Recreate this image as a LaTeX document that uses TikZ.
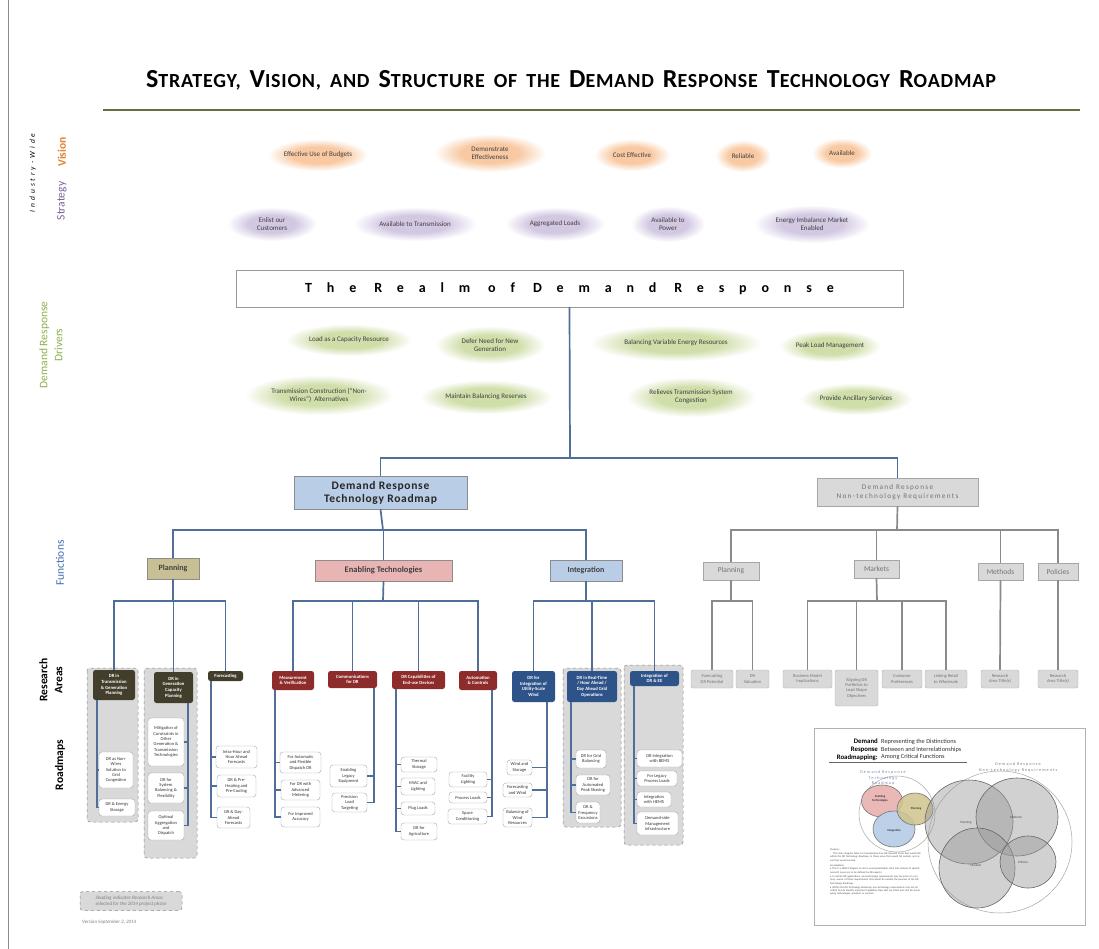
\documentclass[tikz,border=0pt]{standalone}
\usepackage{fontspec}
\setmainfont{Carlito}
\usetikzlibrary{shapes.geometric}

\definecolor{treeblue}{HTML}{4F6F98}
\definecolor{treegray}{HTML}{8A8A8A}
\definecolor{visorange}{HTML}{F8C9A2}
\definecolor{strpurple}{HTML}{D2C8E2}
\definecolor{drvgreen}{HTML}{D0DEAA}
\definecolor{planfill}{HTML}{C8BF94}
\definecolor{etfill}{HTML}{E8B4B4}
\definecolor{intfill}{HTML}{B9CDE6}
\definecolor{plandark}{HTML}{433D2C}
\definecolor{etdark}{HTML}{8E2B2B}
\definecolor{intdark}{HTML}{2D5389}
\definecolor{shadegray}{HTML}{D9D9D9}
\definecolor{labelorange}{HTML}{E3812F}
\definecolor{labelpurple}{HTML}{7B6399}
\definecolor{labelgreen}{HTML}{8DB04B}
\definecolor{labelblue}{HTML}{3F6DB0}
\definecolor{rulegreen}{HTML}{6B6B40}
\definecolor{vennpink}{HTML}{EBB8B8}
\definecolor{vennolive}{HTML}{CFC48E}
\definecolor{vennblue}{HTML}{BCD0E8}

\pgfdeclareradialshading{visglow}{\pgfpointorigin}{color(0bp)=(visorange); color(13bp)=(visorange); color(25bp)=(white); color(50bp)=(white)}
\pgfdeclareradialshading{strglow}{\pgfpointorigin}{color(0bp)=(strpurple); color(13bp)=(strpurple); color(25bp)=(white); color(50bp)=(white)}
\pgfdeclareradialshading{drvglow}{\pgfpointorigin}{color(0bp)=(drvgreen); color(13bp)=(drvgreen); color(25bp)=(white); color(50bp)=(white)}

% small-caps look for the heading
\newcommand{\HdCap}[2]{{\fontsize{26}{26}\selectfont #1}{\fontsize{20}{20}\selectfont #2}}
\newcommand{\HdSm}[1]{{\fontsize{20}{20}\selectfont #1}}
\newcommand{\HdGap}{\hspace{9pt}}

\begin{document}
\begin{tikzpicture}[x=1pt,y=-1pt,
  sz/.style 2 args={minimum width=#1pt, minimum height=#2pt},
  tree/.style={draw=treeblue, line width=1.7pt},
  ntree/.style={draw=treegray, line width=1.7pt},
  glowbase/.style={ellipse, shade, inner sep=0pt, align=center, font=\fontsize{7}{8}\selectfont, text=black!75},
  vis/.style={glowbase, shading=visglow},
  strat/.style={glowbase, shading=strglow},
  drv/.style={glowbase, shading=drvglow},
  rahead/.style={rounded corners=2.5pt, inner sep=0.5pt, align=center, text=white, font=\fontsize{4.7}{5.6}\selectfont\bfseries},
  plhead/.style={rahead, fill=plandark},
  ethead/.style={rahead, fill=etdark},
  inhead/.style={rahead, fill=intdark},
  leaf/.style={draw=black!35, fill=white, rounded corners=3pt, inner sep=0.5pt, align=center, font=\fontsize{4.5}{5.4}\selectfont, text=black!80},
  nleaf/.style={draw=black!30, fill=shadegray, rounded corners=2pt, inner sep=0.5pt, align=center, font=\fontsize{4.5}{5.4}\selectfont, text=black!55},
  func/.style={draw=black!45, inner sep=0.5pt, font=\fontsize{8}{9}\selectfont\bfseries, text=black!75},
  nfunc/.style={draw=black!35, fill=shadegray, inner sep=0.5pt, font=\fontsize{7.5}{9}\selectfont, text=black!55},
  shadebox/.style={fill=shadegray, draw=black!45, dashed, rounded corners=3pt, line width=0.5pt},
  sidelabel/.style={rotate=90, align=center, font=\fontsize{11.5}{13}\selectfont}
]
\useasboundingbox (0,0) rectangle (1099,949);
\fill[white] (0,0) rectangle (1099,949);
\draw[black!45, line width=0.6pt] (8,0) -- (8,949);

% ---------- heading ----------
\node[font=\bfseries\addfontfeature{LetterSpace=4}, inner sep=0pt] (title) at (571,80)
 {\HdCap{S}{TRATEGY,}\HdGap\HdCap{V}{ISION,}\HdGap\HdSm{AND}\HdGap\HdCap{S}{TRUCTURE}\HdGap\HdSm{OF}\HdGap\HdSm{THE}\HdGap\HdCap{D}{EMAND}\HdGap\HdCap{R}{ESPONSE}\HdGap\HdCap{T}{ECHNOLOGY}\HdGap\HdCap{R}{OADMAP}};
\draw[rulegreen, line width=1.6pt] (103,110) -- (1080,110);

% ---------- side labels ----------
\node[rotate=90, font=\fontsize{7.5}{9}\selectfont\itshape\addfontfeature{LetterSpace=40}] (lblind) at (33,173) {Industry-Wide};
\node[sidelabel, text=labelorange, font=\fontsize{11.5}{13}\selectfont\bfseries] (lblvis) at (62,152) {Vision};
\node[sidelabel, text=labelpurple] (lblstr) at (62,201) {Strategy};
\node[sidelabel, text=labelgreen] (lbldrv) at (51,345) {Demand Response\\[2pt]Drivers};
\node[sidelabel, text=labelblue] (lblfun) at (60,563) {Functions};
\node[sidelabel, font=\fontsize{11.5}{13}\selectfont\bfseries] (lblra) at (51,680) {Research\\[2pt]Areas};
\node[sidelabel, font=\fontsize{11.5}{13}\selectfont\bfseries] (lblrm) at (60,765) {Roadmaps};

% ---------- vision ----------
\node[vis, sz={100}{32}] (vis1) at (318,155) {Effective Use of Budgets};
\node[vis, sz={112}{38}] (vis2) at (490,153) {Demonstrate\\Effectiveness};
\node[vis, sz={76}{32}] (vis3) at (632,155) {Cost Effective};
\node[vis, sz={56}{32}] (vis4) at (743,156) {Reliable};
\node[vis, sz={60}{30}] (vis5) at (842,153) {Available};

% ---------- strategy ----------
\node[strat, sz={90}{34}] (str1) at (272,224) {Enlist our\\Customers};
\node[strat, sz={124}{34}] (str2) at (415,224) {Available to Transmission};
\node[strat, sz={100}{34}] (str3) at (555,224) {Aggregated Loads};
\node[strat, sz={74}{36}] (str4) at (668,224) {Available to\\Power};
\node[strat, sz={116}{38}] (str5) at (812,224) {Energy Imbalance Market\\Enabled};

% ---------- realm ----------
\node[draw=black!40, sz={667}{37}, inner sep=0pt, font=\fontsize{14}{16}\selectfont\bfseries\addfontfeature{LetterSpace=106}] (realm) at (569.5,288.5) {The Realm of Demand Response};

% ---------- drivers ----------
\node[drv, sz={126}{32}] (drv1) at (349,340) {Load as a Capacity Resource};
\node[drv, sz={110}{38}] (drv2) at (490,345) {Defer Need for New\\Generation};
\node[drv, sz={172}{36}] (drv3) at (676,343) {Balancing Variable Energy Resources};
\node[drv, sz={102}{32}] (drv4) at (830,346) {Peak Load Management};
\node[drv, sz={148}{40}] (drv5) at (319,395) {Transmission Construction (``Non-\\Wires'')\ \ Alternatives};
\node[drv, sz={132}{34}] (drv6) at (486,397) {Maintain Balancing Reserves};
\node[drv, sz={130}{40}] (drv7) at (691,397) {Relieves Transmission System\\Congestion};
\node[drv, sz={112}{32}] (drv8) at (856,399) {Provide Ancillary Services};

% ---------- roadmap heads ----------
\node[draw=black!45, fill=intfill, sz={173}{33}, inner sep=0pt, align=center, font=\fontsize{11.5}{13}\selectfont\bfseries\addfontfeature{LetterSpace=6}, text=black!85] (drt) at (380.5,492.5) {Demand Response\\Technology Roadmap};
\node[draw=black!35, fill=shadegray, sz={161}{28}, inner sep=0pt, align=center, font=\fontsize{7.2}{9}\selectfont\addfontfeature{LetterSpace=18}, text=black!55] (ntr) at (897.5,492) {Demand Response\\Non-technology Requirements};

% ---------- functions ----------
\node[func, fill=planfill, sz={52}{21}] (fplan) at (173,568.5) {Planning};
\node[func, fill=etfill, sz={137}{21}, font=\fontsize{8.5}{9}\selectfont\bfseries] (fet) at (383.5,570.5) {Enabling Technologies};
\node[func, fill=intfill, sz={72}{21}] (fint) at (586,570.5) {Integration};
\node[nfunc, sz={56}{18}] (nplan) at (731,571) {Planning};
\node[nfunc, sz={45}{18}] (nmark) at (876.5,569) {Markets};
\node[nfunc, sz={45}{17}] (nmeth) at (1000.5,571.5) {Methods};
\node[nfunc, sz={40}{17}] (npol) at (1058,571.5) {Policies};

% ---------- shaded research areas ----------
\draw[shadebox] (87,668) rectangle (138,822);
\draw[shadebox] (144,668) rectangle (197,858);
\draw[shadebox] (563,668) rectangle (621,827);
\draw[shadebox] (624,665) rectangle (683,845);

% ---------- research areas: planning ----------
\node[plhead, sz={42}{30}] (ra11) at (114,685) {DR in\\Transmission\\\& Generation\\Planning};
\node[plhead, sz={39}{31}] (ra12) at (173.5,687.5) {DR in\\Generation\\Capacity\\Planning};
\node[plhead, sz={35}{10}] (ra13) at (225.5,676) {Forecasting};
\node[leaf, sz={34}{36}] (c111) at (116,770) {DR as Non-\\Wires\\Solution to\\Grid\\Congestion};
\node[leaf, sz={36}{17}] (c112) at (117,807.5) {DR \& Energy\\Storage};
\node[leaf, sz={36}{48}] (c121) at (166,742) {Mitigation of\\Constraints in\\Other\\Generation \&\\Transmission\\Technologies};
\node[leaf, sz={36}{30}] (c122) at (166,788) {DR for\\System\\Balancing \&\\Flexibility};
\node[leaf, sz={36}{29}] (c123) at (166,825.5) {Optimal\\Aggregation\\and\\Dispatch};
\node[leaf, sz={41}{22}] (c131) at (236.5,757) {Intra-Hour and\\Hour Ahead\\Forecasts};
\node[leaf, sz={39}{22}] (c132) at (236.5,786) {DR \& Pre-\\Heating and\\Pre-Cooling};
\node[leaf, sz={33}{21}] (c133) at (233.5,817.5) {DR \& Day-\\Ahead\\Forecasts};

% ---------- research areas: enabling technologies ----------
\node[ethead, sz={42}{19}] (ra21) at (293,680.5) {Measurement\\\& Verification};
\node[ethead, sz={49}{17}] (ra22) at (352.5,679.5) {Communications\\for DR};
\node[ethead, sz={53}{18}] (ra23) at (418.5,680) {DR Capabilities of\\End-use Devices};
\node[ethead, sz={38}{19}] (ra24) at (478,680.5) {Automation\\\& Controls};
\node[leaf, sz={41}{21}] (c211) at (300.5,762.5) {For Automatic\\and Flexible\\Dispatch DR};
\node[leaf, sz={39}{20}] (c212) at (300.5,790) {For DR with\\Advanced\\Metering};
\node[leaf, sz={39}{20}] (c213) at (300.5,817) {For Improved\\Accuracy};
\node[leaf, sz={37}{22}] (c221) at (348.5,776) {Enabling\\Legacy\\Equipment};
\node[leaf, sz={35}{19}] (c222) at (349.5,802.5) {Precision\\Load\\Targeting};
\node[leaf, sz={36}{15}] (c231) at (419,764.5) {Thermal\\Storage};
\node[leaf, sz={34}{17}] (c232) at (418,786.5) {HVAC and\\Lighting};
\node[leaf, sz={34}{13}] (c233) at (418,808.5) {Plug Loads};
\node[leaf, sz={36}{17}] (c234) at (419,831.5) {DR for\\Agriculture};
\node[leaf, sz={38}{15}] (c241) at (468,779.5) {Facility\\Lighting};
\node[leaf, sz={38}{11}] (c242) at (468,797.5) {Process Loads};
\node[leaf, sz={39}{15}] (c243) at (467.5,816.5) {Space\\Conditioning};

% ---------- research areas: integration ----------
\node[inhead, sz={43}{31}] (ra31) at (533.5,686.5) {DR for\\Integration of\\Utility-Scale\\Wind};
\node[inhead, sz={50}{31}] (ra32) at (592,686.5) {DR in Real-Time\\/ Hour Ahead /\\Day Ahead Grid\\Operations};
\node[inhead, sz={49}{15}] (ra33) at (654.5,678.5) {Integration of\\DR \& EE};
\node[leaf, sz={25}{15}] (c311) at (519.5,767.5) {Wind and\\Storage};
\node[leaf, sz={29}{14}] (c312) at (517.5,790) {Forecasting\\and Wind};
\node[leaf, sz={29}{19}] (c313) at (517.5,817.5) {Balancing of\\Wind\\Resources};
\node[leaf, sz={30}{18}] (c321) at (591,759) {DR for Grid\\Balancing};
\node[leaf, sz={34}{20}] (c322) at (593,785) {DR for\\Automated\\Peak Shaving};
\node[leaf, sz={24}{21}] (c323) at (588,812.5) {DR \&\\Frequency\\Excursions};
\node[leaf, sz={45}{17}] (c331) at (659.5,758.5) {DR Integration\\with BEMS};
\node[leaf, sz={40}{15}] (c332) at (657,778.5) {For Legacy\\Process Loads};
\node[leaf, sz={34}{15}] (c333) at (654,799.5) {Integration\\with HEMS};
\node[leaf, sz={41}{23}] (c334) at (657.5,823.5) {Demand-side\\Management\\Infrastructure};

% ---------- non-technology research areas ----------
\node[nleaf, sz={42}{18}] (n11) at (712,679) {Forecasting\\DR Potential};
\node[nleaf, sz={33}{18}] (n12) at (752.5,679) {DR\\Valuation};
\node[nleaf, sz={49}{18}] (n21) at (807.5,679) {Business Model\\Implications};
\node[nleaf, sz={43}{36}] (n22) at (856.5,688) {Aligning DR\\Portfolios to\\Load Shape\\Objectives};
\node[nleaf, sz={40}{18}] (n23) at (902,679) {Customer\\Preferences};
\node[nleaf, sz={42}{18}] (n24) at (946,679) {Linking Retail\\to Wholesale};
\node[nleaf, sz={38}{18}] (n31) at (1000,679) {Research\\Area Title(s)};
\node[nleaf, sz={40}{18}] (n41) at (1058,679) {Research\\Area Title(s)};

% ---------- tree connectors ----------
\coordinate (tbar) at (570,458);
\coordinate (fbar) at (383,530);
\coordinate (nbar) at (897,530);
\coordinate (plbar) at (173,601);
\coordinate (etbar) at (383,601);
\coordinate (inbar) at (586,601);
\coordinate (npbar) at (731,601);
\coordinate (nmbar) at (877,601);

\draw[tree] (realm.south) -- (tbar);
\draw[tree] (drt.north) |- (tbar);
\draw[tree] (ntr.north) |- (tbar);
\draw[tree] (drt.south) -- (fbar);
\foreach \f in {fplan,fet,fint} \draw[tree] (\f.north) |- (fbar);
\draw[tree] (fplan.south) -- (plbar);
\draw[tree] (fet.south) -- (etbar);
\draw[tree] (fint.south) -- (inbar);
\foreach \r in {ra11,ra12,ra13} \draw[tree] (\r.north) |- (plbar);
\foreach \r in {ra21,ra22,ra23,ra24} \draw[tree] (\r.north) |- (etbar);
\foreach \r in {ra31,ra32,ra33} \draw[tree] (\r.north) |- (inbar);

% spines from each research area to its roadmaps
\coordinate (s11) at (97,700);
\coordinate (s12) at (188,703);
\coordinate (s13) at (211,681);
\coordinate (s21) at (275,690);
\coordinate (s22) at (374,688);
\coordinate (s23) at (396,689);
\coordinate (s24) at (492,690);
\coordinate (s31) at (547,702);
\coordinate (s32) at (571,702);
\coordinate (s33) at (634,686);
\foreach \c in {c111,c112} \draw[tree] (s11) |- (\c.west);
\foreach \c in {c121,c122,c123} \draw[tree] (s12) |- (\c.east);
\foreach \c in {c131,c132,c133} \draw[tree] (s13) |- (\c.west);
\foreach \c in {c211,c212,c213} \draw[tree] (s21) |- (\c.west);
\foreach \c in {c221,c222} \draw[tree] (s22) |- (\c.east);
\foreach \c in {c231,c232,c233,c234} \draw[tree] (s23) |- (\c.west);
\foreach \c in {c241,c242,c243} \draw[tree] (s24) |- (\c.east);
\foreach \c in {c311,c312,c313} \draw[tree] (s31) |- (\c.east);
\foreach \c in {c321,c322,c323} \draw[tree] (s32) |- (\c.west);
\foreach \c in {c331,c332,c333,c334} \draw[tree] (s33) |- (\c.west);

% non-technology tree
\draw[ntree] (ntr.south) -- (nbar);
\foreach \f in {nplan,nmark,nmeth,npol} \draw[ntree] (\f.north) |- (nbar);
\draw[ntree] (nplan.south) -- (npbar);
\draw[ntree] (nmark.south) -- (nmbar);
\foreach \c in {n11,n12} \draw[ntree] (\c.north) |- (npbar);
\foreach \c in {n21,n22,n23,n24} \draw[ntree] (\c.north) |- (nmbar);
\draw[ntree] (nmeth.south) -- (n31.north);
\draw[ntree] (npol.south) -- (n41.north);

% ---------- notes ----------
\node[shadebox, sz={102}{19}, inner sep=0pt, align=left, font=\fontsize{5}{6.2}\selectfont\itshape, text=black!50] (note) at (131,901) {Shading indicates Research Areas\\selected for the 2014 project phase};
\node[anchor=west, inner sep=0pt, font=\fontsize{5}{6}\selectfont\itshape, text=black!50] (version) at (82,922) {Version September 2, 2014};

% ---------- inset: distinctions between functions ----------
\draw[black!30, fill=white, line width=0.5pt] (814,728) rectangle (1085,925);
\node[anchor=east, inner sep=0pt, align=right, font=\fontsize{6.8}{7.8}\selectfont\bfseries] (insl) at (878,749.5) {Demand\\Response\\Roadmapping:};
\node[anchor=west, inner sep=0pt, align=left, font=\fontsize{6.3}{7.8}\selectfont, text=black!80] (insr) at (881,749.5) {Representing the Distinctions\\Between and Interrelationships\\Among Critical Functions};
\draw[black!60, line width=0.5pt] (829,762) -- (967,762);

\draw[black!35, line width=0.5pt] (1000,842) ellipse (72pt and 71pt);
\draw[black!35, line width=0.5pt] (897,814) circle (38pt);
\node[align=center, inner sep=0pt, font=\fontsize{4.2}{5.6}\selectfont\addfontfeature{LetterSpace=25}, text=treeblue!80] (insdrt) at (883,778) {Demand Response\\Technology\\Roadmap};
\node[align=center, inner sep=0pt, font=\fontsize{4.2}{5.6}\selectfont\addfontfeature{LetterSpace=25}, text=black!50] (insntr) at (1018,767.5) {Demand Response\\Non-technology Requirements};

\fill[vennpink] (882,801) ellipse (20.5pt and 16pt);
\draw[black!55, line width=0.6pt] (882,801) ellipse (20.5pt and 16pt);
\fill[vennblue] (894,829) ellipse (21pt and 18pt);
\draw[black!55, line width=0.6pt] (894,829) ellipse (21pt and 18pt);
\fill[vennolive, opacity=0.85] (915,809) ellipse (18pt and 16pt);
\draw[black!55, line width=0.6pt] (915,809) ellipse (18pt and 16pt);
\node[inner sep=0pt, align=center, font=\fontsize{3}{3.6}\selectfont] (vet) at (880,799) {Enabling\\Technologies};
\node[inner sep=0pt, font=\fontsize{3}{3.6}\selectfont] (vpl) at (916,809) {Planning};
\node[inner sep=0pt, font=\fontsize{3}{3.6}\selectfont] (vin) at (894,831) {Integration};

\begin{scope}[fill=black!40, fill opacity=0.45, draw=black!60, line width=0.6pt]
  \filldraw (969,822) ellipse (44pt and 42pt);
  \filldraw (1017,817) ellipse (41pt and 39pt);
  \filldraw (977,868) ellipse (38pt and 40pt);
  \filldraw (1028,862) ellipse (28pt and 26pt);
\end{scope}
\node[inner sep=0pt, font=\fontsize{3.2}{4}\selectfont, text=black!70] (vnp) at (966,823) {Planning};
\node[inner sep=0pt, font=\fontsize{3.2}{4}\selectfont, text=black!70] (vnme) at (1016,817) {Methods};
\node[inner sep=0pt, font=\fontsize{3.2}{4}\selectfont, text=black!70] (vnma) at (976,865) {Markets};
\node[inner sep=0pt, font=\fontsize{3.2}{4}\selectfont, text=black!70] (vnpo) at (1023,862) {Policies};

\node[anchor=north west, inner sep=0pt, text width=92pt, align=left, font=\fontsize{2.6}{3.3}\selectfont, text=black!70] (purpose) at (830,849)
 {Purpose:\\[0.5pt]
 \hspace*{3pt}This Venn diagram helps to conceptualize how DR research areas that would fall within the DR Technology Roadmap, in those areas that would fall outside, and areas that would overlap.\\[1.5pt]
 Assumptions:\\[0.5pt]
 \textbullet\ This is a DRAFT diagram to aid in conceptualization; final and content of specific research areas are to be defined by DR experts.\\[1pt]
 \textbullet\ In certain DR applications, non-technology requirements may be more of a primary source of those requirements that would be outside the purview of the DR Technology Roadmap.\\[1pt]
 \textbullet\ Within the DR Technology Roadmap, non-technology requirements may not be critical but do identify important Capability Gaps that are listed and vital for developing technologies, products or services.};

\end{tikzpicture}
\end{document}
